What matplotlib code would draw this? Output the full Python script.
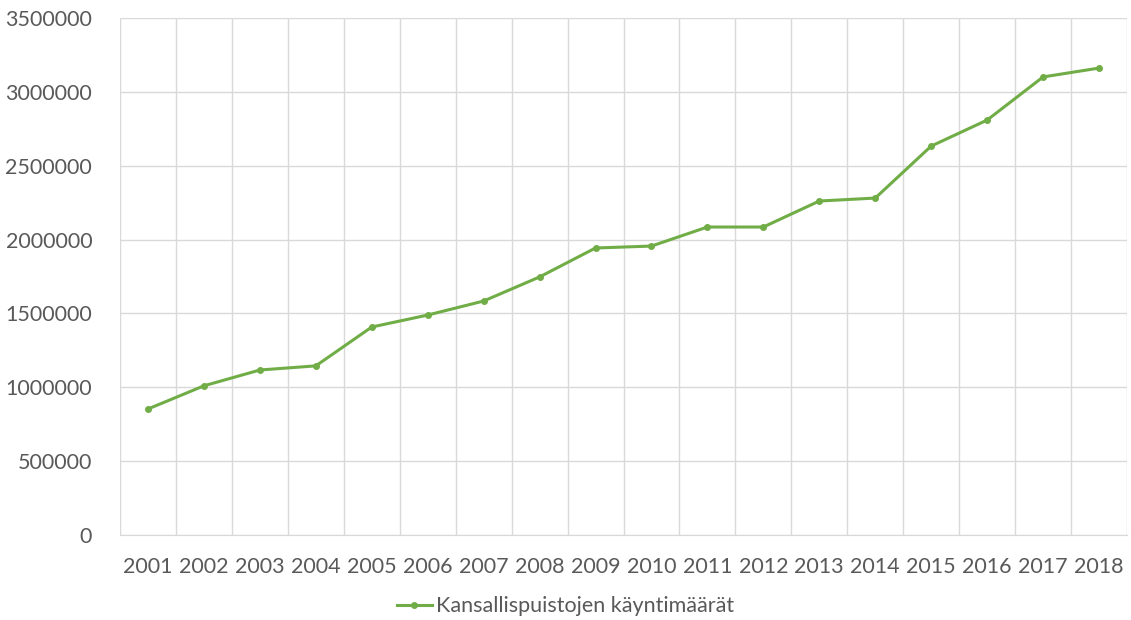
import matplotlib
matplotlib.use('Agg')
import matplotlib.pyplot as plt
from matplotlib.ticker import MultipleLocator, FuncFormatter

vuodet = [str(v) for v in range(2001, 2019)]
kaynnit = [853000, 1010000, 1117000, 1145000, 1408000, 1489000, 1584000, 1747000,
           1943000, 1956000, 2085000, 2085000, 2261000, 2281000, 2633000, 2809000,
           3101000, 3161000]
sarja = "Kansallispuistojen käyntimäärät"

plt.rcParams['font.family'] = ['Lato', 'DejaVu Sans']

fig = plt.figure(figsize=(11.31, 6.2), dpi=100)
ax = fig.add_axes([120/1131, 85/620, 1007/1131, 517/620])

x = list(range(len(vuodet)))
ax.plot(x, kaynnit, color='#70AD47', linewidth=2.2, marker='o', markersize=4,
        label=sarja)

ax.set_xlim(-0.5, len(vuodet) - 0.5)
ax.set_ylim(0, 3500000)
ax.yaxis.set_major_locator(MultipleLocator(500000))
ax.yaxis.set_major_formatter(FuncFormatter(lambda v, p: f"{int(v)}"))
ax.set_xticks(x)
ax.set_xticklabels(vuodet)
ax.set_xticks([i - 0.5 for i in range(len(vuodet) + 1)], minor=True)

ax.grid(True, axis='y', which='major', color='#D9D9D9', linewidth=1)
ax.grid(True, axis='x', which='minor', color='#D9D9D9', linewidth=1)
ax.grid(False, axis='x', which='major')
ax.set_axisbelow(True)

for s in ['top', 'right', 'left']:
    ax.spines[s].set_visible(False)
ax.spines['bottom'].set_color('#D9D9D9')

ax.tick_params(axis='both', which='both', length=0, labelsize=15.5, colors='#595959')
ax.tick_params(axis='x', pad=16)
ax.tick_params(axis='y', pad=20)

fig.legend(loc='center', bbox_to_anchor=(0.5, 0.022), frameon=False,
           fontsize=15.5, labelcolor='#595959', handlelength=1.6, handletextpad=0.2)

fig.savefig('out.png', dpi=100)
